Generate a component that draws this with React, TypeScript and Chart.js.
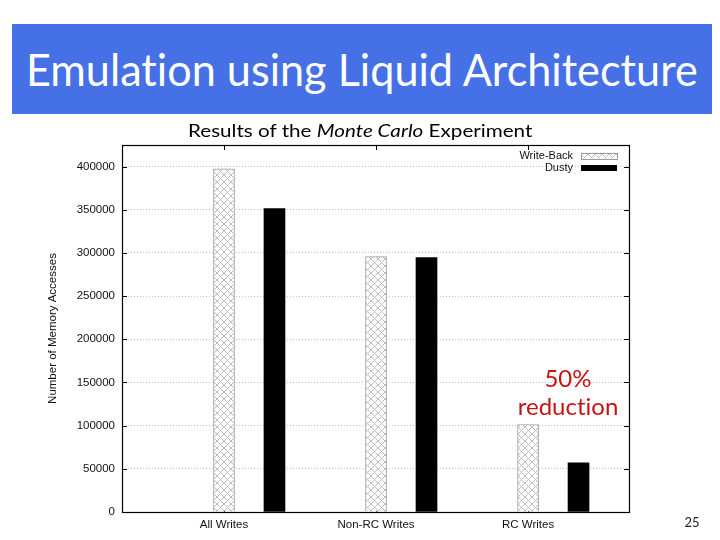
import React, { useEffect, useLayoutEffect, useRef } from "react";
import { Chart, registerables } from "chart.js";

Chart.register(...registerables);

// ---- data ----
const categories = ["All Writes", "Non-RC Writes", "RC Writes"];
const seriesNames = ["Write-Back", "Dusty"];
const writeBack = [397500, 295800, 101300];
const dusty = [351500, 294600, 57000];
const yTicks = [0, 50000, 100000, 150000, 200000, 250000, 300000, 350000, 400000];
const yMax = 425000;
const yTitle = "Number of Memory Accesses";
const slideTitle = "Emulation using Liquid Architecture";
const annotationLines = ["50%", "reduction"];
const pageNumber = "25";

const AXIS_FONT = "'Liberation Sans', Arial, Helvetica, sans-serif";
const SLIDE_FONT = "Lato, 'Open Sans', sans-serif";

function makeHatch(): CanvasPattern | string {
  const c = document.createElement("canvas");
  c.width = 7;
  c.height = 7;
  const g = c.getContext("2d");
  if (!g) return "#ddd";
  g.fillStyle = "#ffffff";
  g.fillRect(0, 0, 7, 7);
  g.strokeStyle = "#bdbdbd";
  g.lineWidth = 1;
  g.beginPath();
  g.moveTo(0, 0);
  g.lineTo(7, 7);
  g.moveTo(7, 0);
  g.lineTo(0, 7);
  g.stroke();
  return g.createPattern(c, "repeat") || "#ddd";
}

const framePlugin = {
  id: "gnuFrame",
  beforeDatasetsDraw(chart: any) {
    const { ctx, chartArea: a, scales } = chart;
    ctx.save();
    ctx.strokeStyle = "#000";
    ctx.lineWidth = 1;
    ctx.beginPath();
    for (const t of scales.y.ticks) {
      const y = Math.round(scales.y.getPixelForValue(t.value)) + 0.5;
      ctx.moveTo(a.left, y);
      ctx.lineTo(a.left + 5, y);
      ctx.moveTo(a.right, y);
      ctx.lineTo(a.right - 5, y);
    }
    for (const t of scales.x.ticks) {
      const x = Math.round(scales.x.getPixelForValue(t.value)) + 0.5;
      ctx.moveTo(x, a.top);
      ctx.lineTo(x, a.top + 5);
      ctx.moveTo(x, a.bottom);
      ctx.lineTo(x, a.bottom - 5);
    }
    ctx.stroke();
    ctx.restore();
  },
  afterDatasetsDraw(chart: any) {
    const { ctx, chartArea: a } = chart;
    ctx.save();
    ctx.strokeStyle = "#000";
    ctx.lineWidth = 1.2;
    ctx.strokeRect(
      Math.round(a.left) + 0.5,
      Math.round(a.top) + 0.5,
      Math.round(a.right - a.left),
      Math.round(a.bottom - a.top)
    );
    // legend (gnuplot style, top right inside)
    ctx.font = `11px ${AXIS_FONT}`;
    ctx.textAlign = "right";
    ctx.textBaseline = "middle";
    ctx.fillStyle = "#111";
    chart.data.datasets.forEach((ds: any, i: number) => {
      const cy = a.top + 10.5 + i * 12.5;
      ctx.fillText(ds.label, a.right - 56, cy);
      const bx = a.right - 48;
      const bw = 36;
      const bh = 6;
      ctx.fillStyle = ds.backgroundColor;
      ctx.fillRect(bx, cy - bh / 2, bw, bh);
      if (ds.borderWidth) {
        ctx.strokeStyle = ds.borderColor;
        ctx.lineWidth = 1;
        ctx.strokeRect(bx + 0.5, Math.round(cy - bh / 2) + 0.5, bw, bh);
      }
      ctx.fillStyle = "#111";
    });
    ctx.restore();
  },
};

function useFit(ref: React.RefObject<HTMLSpanElement | null>, target: number) {
  useLayoutEffect(() => {
    const el = ref.current;
    if (!el) return;
    const w = el.offsetWidth;
    if (w > 0) el.style.transform = `scaleX(${target / w})`;
  }, []);
}

export default function App() {
  const canvasRef = useRef<HTMLCanvasElement>(null);
  const titleRef = useRef<HTMLSpanElement>(null);
  const subRef = useRef<HTMLSpanElement>(null);
  useFit(titleRef, 672);
  useFit(subRef, 344);

  useEffect(() => {
    document.body.style.margin = "0";
    const canvas = canvasRef.current;
    if (!canvas) return;
    const hatch = makeHatch();
    const dustyOffset = 0.332;
    const font = { family: AXIS_FONT, size: 11.5 };
    const chart = new Chart(canvas, {
      type: "bar",
      data: {
        datasets: [
          {
            label: seriesNames[0],
            data: categories.map((_, i) => ({ x: i, y: writeBack[i] })),
            backgroundColor: hatch as any,
            borderColor: "#9c9c9c",
            borderWidth: 1,
            barThickness: 21,
            grouped: false,
          } as any,
          {
            label: seriesNames[1],
            data: categories.map((_, i) => ({ x: i + dustyOffset, y: dusty[i] })),
            backgroundColor: "#000000",
            borderColor: "#000000",
            borderWidth: 0,
            barThickness: 21,
            grouped: false,
          } as any,
        ],
      },
      options: {
        animation: false,
        responsive: false,
        maintainAspectRatio: false,
        events: [],
        layout: { padding: { top: 145, right: 91, bottom: 0, left: 0 } },
        plugins: { legend: { display: false }, tooltip: { enabled: false }, title: { display: false } },
        scales: {
          x: {
            type: "linear",
            offset: false,
            min: -0.671,
            max: 2.664,
            grid: { display: false, drawTicks: false, offset: false },
            border: { display: false },
            afterBuildTicks: (s: any) => {
              s.ticks = categories.map((_, i) => ({ value: i }));
            },
            afterFit: (s: any) => {
              s.height = 28;
            },
            ticks: {
              autoSkip: false,
              maxRotation: 0,
              padding: 6,
              color: "#111",
              font,
              callback: (v: any) => categories[Math.round(Number(v))] ?? "",
            },
          },
          y: {
            type: "linear",
            min: 0,
            max: yMax,
            grid: { color: "#c4c4c4", lineWidth: 1, drawTicks: false },
            border: { display: false, dash: [1, 2] },
            afterBuildTicks: (s: any) => {
              s.ticks = yTicks.map((v) => ({ value: v }));
            },
            afterFit: (s: any) => {
              s.width = 122;
            },
            ticks: {
              padding: 7,
              color: "#111",
              font,
              callback: (v: any) => String(v),
            },
            title: {
              display: true,
              text: yTitle,
              color: "#111",
              font,
              padding: { top: 46, bottom: 0 },
            },
          },
        },
      } as any,
      plugins: [framePlugin as any],
    });
    return () => chart.destroy();
  }, []);

  return (
    <div style={{ position: "absolute", left: 0, top: 0, width: 720, height: 540, background: "#fff", overflow: "hidden" }}>
      <canvas ref={canvasRef} width={720} height={540} style={{ position: "absolute", left: 0, top: 0, width: 720, height: 540 }} />
      <div
        style={{
          position: "absolute",
          left: 12,
          top: 24,
          width: 700,
          height: 90,
          background: "rgb(70,112,229)",
          display: "flex",
          alignItems: "center",
          justifyContent: "center",
        }}
      >
        <span
          ref={titleRef}
          style={{ display: "inline-block", whiteSpace: "nowrap", color: "#fff", fontFamily: SLIDE_FONT, fontSize: 45, lineHeight: "46px", transformOrigin: "center", fontVariantLigatures: "none" }}
        >
          {slideTitle}
        </span>
      </div>
      <div style={{ position: "absolute", left: 0, top: 119, width: 720, textAlign: "center" }}>
        <span
          ref={subRef}
          style={{ display: "inline-block", whiteSpace: "nowrap", color: "#000", fontFamily: SLIDE_FONT, fontSize: 18, lineHeight: "22px", transformOrigin: "center", fontVariantLigatures: "none" }}
        >
          Results of the <i>Monte Carlo</i> Experiment
        </span>
      </div>
      <div
        style={{
          position: "absolute",
          left: 498,
          top: 364,
          width: 140,
          textAlign: "center",
          color: "#c41414",
          fontFamily: SLIDE_FONT,
          fontSize: 24,
          lineHeight: "28px",
          fontVariantLigatures: "none",
        }}
      >
        {annotationLines.map((l) => (
          <div key={l}>{l}</div>
        ))}
      </div>
      <div style={{ position: "absolute", left: 672, top: 513, width: 40, textAlign: "center", fontFamily: SLIDE_FONT, fontSize: 13, color: "#222", lineHeight: "18px" }}>
        {pageNumber}
      </div>
    </div>
  );
}
